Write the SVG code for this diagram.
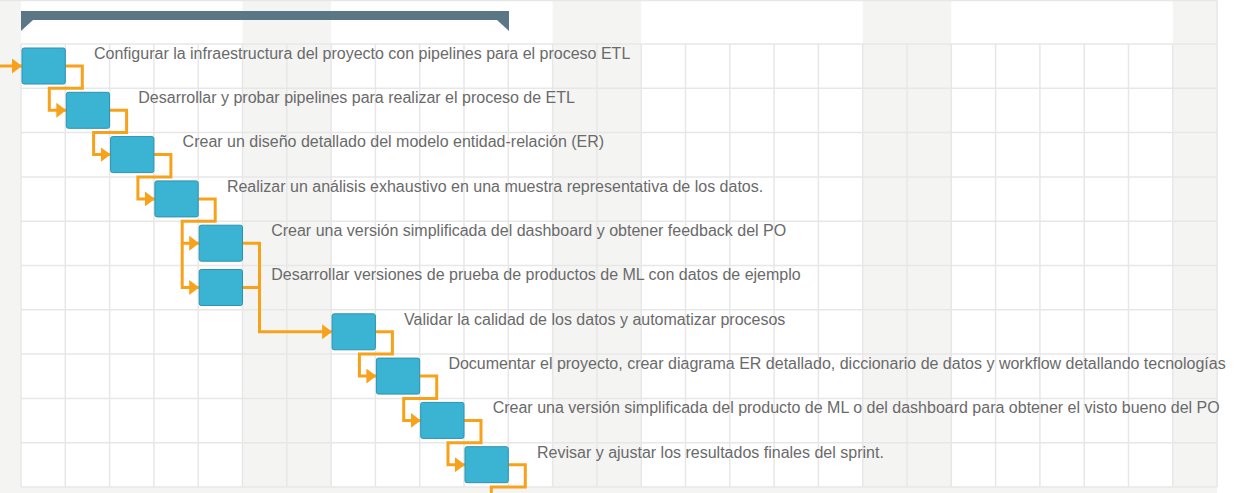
<svg xmlns="http://www.w3.org/2000/svg" width="1247" height="493" viewBox="0 0 1247 493">
<style>
.weekend{fill:#f4f5f3}
.grid line{stroke:#e7e7e7;stroke-width:1.5}
.bar{fill:#3bb4d3;stroke:#2b93b1;stroke-width:1}
.lbl{font-family:"Liberation Sans",Arial,sans-serif;font-size:16px;fill:#6a6a6a}
.conn path{fill:none;stroke:#f8a21c;stroke-width:3;stroke-linejoin:miter}
.arr{fill:#f8a21c}
</style>
<defs>
<marker id="ah" markerUnits="userSpaceOnUse" markerWidth="11" markerHeight="15" refX="10" refY="7.5" orient="auto">
<path class="arr" d="M0,0 L10,7.5 L0,15 z"/>
</marker>
</defs>
<rect x="0" y="0" width="1247" height="493" fill="#ffffff"/>
<g id="background">
<rect class="weekend" x="0" y="0" width="21" height="493"/>
<rect class="weekend" x="242.5" y="0" width="88.6" height="493"/>
<rect class="weekend" x="552.6" y="0" width="88.6" height="493"/>
<rect class="weekend" x="862.7" y="0" width="88.6" height="493"/>
<rect class="weekend" x="1172.8" y="0" width="44.3" height="493"/>
<rect class="weekend" x="0" y="487" width="1217" height="6"/>
</g>
<g id="grid" class="grid">
<line x1="0" y1="0.5" x2="1217" y2="0.5"/>
<line x1="21" y1="44" x2="1217" y2="44"/>
<line x1="21" y1="88.3" x2="1217" y2="88.3"/>
<line x1="21" y1="132.6" x2="1217" y2="132.6"/>
<line x1="21" y1="176.9" x2="1217" y2="176.9"/>
<line x1="21" y1="221.2" x2="1217" y2="221.2"/>
<line x1="21" y1="265.5" x2="1217" y2="265.5"/>
<line x1="21" y1="309.8" x2="1217" y2="309.8"/>
<line x1="21" y1="354.1" x2="1217" y2="354.1"/>
<line x1="21" y1="398.4" x2="1217" y2="398.4"/>
<line x1="21" y1="442.7" x2="1217" y2="442.7"/>
<line x1="21" y1="487" x2="1217" y2="487"/>
<line x1="21" y1="44" x2="21" y2="487"/>
<line x1="65.3" y1="44" x2="65.3" y2="487"/>
<line x1="109.6" y1="44" x2="109.6" y2="487"/>
<line x1="153.9" y1="44" x2="153.9" y2="487"/>
<line x1="198.2" y1="44" x2="198.2" y2="487"/>
<line x1="242.5" y1="44" x2="242.5" y2="487"/>
<line x1="286.8" y1="44" x2="286.8" y2="487"/>
<line x1="331.1" y1="44" x2="331.1" y2="487"/>
<line x1="375.4" y1="44" x2="375.4" y2="487"/>
<line x1="419.7" y1="44" x2="419.7" y2="487"/>
<line x1="464" y1="44" x2="464" y2="487"/>
<line x1="508.3" y1="44" x2="508.3" y2="487"/>
<line x1="552.6" y1="44" x2="552.6" y2="487"/>
<line x1="596.9" y1="44" x2="596.9" y2="487"/>
<line x1="641.2" y1="44" x2="641.2" y2="487"/>
<line x1="685.5" y1="44" x2="685.5" y2="487"/>
<line x1="729.8" y1="44" x2="729.8" y2="487"/>
<line x1="774.1" y1="44" x2="774.1" y2="487"/>
<line x1="818.4" y1="44" x2="818.4" y2="487"/>
<line x1="862.7" y1="44" x2="862.7" y2="487"/>
<line x1="907" y1="44" x2="907" y2="487"/>
<line x1="951.3" y1="44" x2="951.3" y2="487"/>
<line x1="995.6" y1="44" x2="995.6" y2="487"/>
<line x1="1039.9" y1="44" x2="1039.9" y2="487"/>
<line x1="1084.2" y1="44" x2="1084.2" y2="487"/>
<line x1="1128.5" y1="44" x2="1128.5" y2="487"/>
<line x1="1172.8" y1="44" x2="1172.8" y2="487"/>
<line x1="1217.1" y1="0" x2="1217.1" y2="487"/>
</g>
<g id="summary">
<rect x="21" y="11" width="488" height="9" fill="#5b7684"/>
<path d="M21,20 L33,20 L21,31 z" fill="#5b7684"/>
<path d="M497,20 L509,20 L509,31 z" fill="#5b7684"/>
</g>
<g id="connectors" class="conn">
<path d="M0,66 H22" marker-end="url(#ah)"/>
<path d="M65.3,66 H82.3 V88.3 H49.3 V110.3 H66.3" marker-end="url(#ah)"/>
<path d="M109.6,110.3 H126.6 V132.6 H93.6 V154.6 H110.6" marker-end="url(#ah)"/>
<path d="M153.9,154.6 H170.9 V176.9 H137.9 V198.9 H154.9" marker-end="url(#ah)"/>
<path d="M198.2,198.9 H215.2 V221.2 H182.2 V243.2 H199.2" marker-end="url(#ah)"/>
<path d="M182.2,243.2 V287.5 H199.2" marker-end="url(#ah)"/>
<path d="M242.5,243.2 H259.5 V331.8 H332.1" marker-end="url(#ah)"/>
<path d="M242.5,287.5 H259.5"/>
<path d="M375.4,331.8 H392.4 V354.1 H359.4 V376.1 H376.4" marker-end="url(#ah)"/>
<path d="M419.7,376.1 H436.7 V398.4 H403.7 V420.4 H420.7" marker-end="url(#ah)"/>
<path d="M464,420.4 H481 V442.7 H448 V464.7 H465" marker-end="url(#ah)"/>
<path d="M508.3,464.7 H525.3 V487 H491.3 V496"/>
</g>
<g id="task1"><rect class="bar" x="22" y="48" width="43.3" height="36" rx="2"/><text class="lbl" x="94" y="58.8">Configurar la infraestructura del proyecto con pipelines para el proceso ETL</text></g>
<g id="task2"><rect class="bar" x="66.3" y="92.3" width="43.3" height="36" rx="2"/><text class="lbl" x="138.3" y="103.1">Desarrollar y probar pipelines para realizar el proceso de ETL</text></g>
<g id="task3"><rect class="bar" x="110.6" y="136.6" width="43.3" height="36" rx="2"/><text class="lbl" x="182.6" y="147.4">Crear un diseño detallado del modelo entidad-relación (ER)</text></g>
<g id="task4"><rect class="bar" x="154.9" y="180.9" width="43.3" height="36" rx="2"/><text class="lbl" x="226.9" y="191.7">Realizar un análisis exhaustivo en una muestra representativa de los datos.</text></g>
<g id="task5"><rect class="bar" x="199.2" y="225.2" width="43.3" height="36" rx="2"/><text class="lbl" x="271.2" y="236">Crear una versión simplificada del dashboard y obtener feedback del PO</text></g>
<g id="task6"><rect class="bar" x="199.2" y="269.5" width="43.3" height="36" rx="2"/><text class="lbl" x="271.2" y="280.3">Desarrollar versiones de prueba de productos de ML con datos de ejemplo</text></g>
<g id="task7"><rect class="bar" x="332.1" y="313.8" width="43.3" height="36" rx="2"/><text class="lbl" x="404.1" y="324.6">Validar la calidad de los datos y automatizar procesos</text></g>
<g id="task8"><rect class="bar" x="376.4" y="358.1" width="43.3" height="36" rx="2"/><text class="lbl" x="448.4" y="368.9">Documentar el proyecto, crear diagrama ER detallado, diccionario de datos y workflow detallando tecnologías</text></g>
<g id="task9"><rect class="bar" x="420.7" y="402.4" width="43.3" height="36" rx="2"/><text class="lbl" x="492.7" y="413.2">Crear una versión simplificada del producto de ML o del dashboard para obtener el visto bueno del PO</text></g>
<g id="task10"><rect class="bar" x="465" y="446.7" width="43.3" height="36" rx="2"/><text class="lbl" x="537" y="457.5">Revisar y ajustar los resultados finales del sprint.</text></g>
</svg>
